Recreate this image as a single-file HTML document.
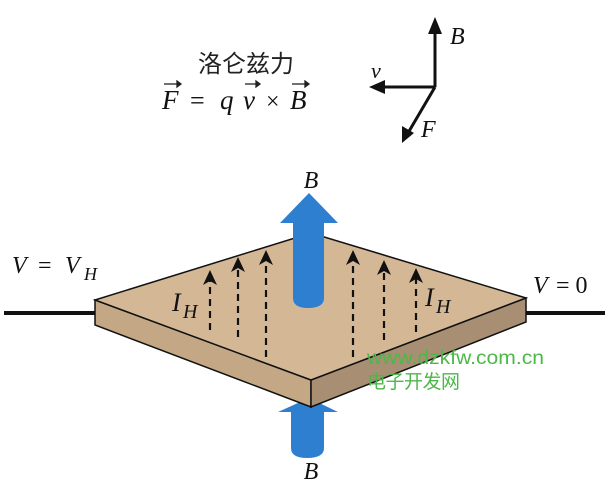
<!DOCTYPE html>
<html><head><meta charset="utf-8"><style>
html,body{margin:0;padding:0;background:#fff;}
svg{display:block;}
.s{font-family:"Liberation Serif",serif;font-style:italic;fill:#111;}
</style></head><body>
<svg width="609" height="497" viewBox="0 0 609 497">
<text x="246" y="72" text-anchor="middle" font-family="'Liberation Sans','Noto Sans CJK SC',sans-serif" font-size="24" fill="#222">洛仑兹力</text>
<text x="162" y="109" class="s" font-size="27">F</text>
<text x="190" y="109" font-family="'Liberation Serif',serif" font-size="26" fill="#111">=</text>
<text x="220" y="109" class="s" font-size="27">q</text>
<text x="243" y="109" class="s" font-size="27">v</text>
<text x="266" y="109" font-family="'Liberation Serif',serif" font-size="24" fill="#111">×</text>
<text x="290" y="109" class="s" font-size="27">B</text>
<g stroke="#222" stroke-width="1.3" fill="#222">
<line x1="164" y1="84" x2="177" y2="84"/><path d="M177,81 L181,84 L177,87z"/>
<line x1="245" y1="84" x2="256" y2="84"/><path d="M256,81 L260,84 L256,87z"/>
<line x1="292" y1="84" x2="305" y2="84"/><path d="M305,81 L309,84 L305,87z"/>
</g>
<g stroke="#111" stroke-width="3" fill="none">
<line x1="435" y1="87" x2="435" y2="28"/>
<line x1="435" y1="87" x2="380" y2="87"/>
<line x1="435" y1="87" x2="408" y2="133"/>
</g>
<path d="M435,17 L428,34 L442,34z" fill="#111"/>
<path d="M369,87 L385,80 L385,94z" fill="#111"/>
<path d="M402,143 L402,126 L414,133z" fill="#111"/>
<text x="450" y="44" class="s" font-size="24">B</text>
<text x="371" y="78" class="s" font-size="22">v</text>
<text x="421" y="137" class="s" font-size="24">F</text>
<line x1="4" y1="313" x2="96" y2="313" stroke="#111" stroke-width="4"/>
<line x1="525" y1="313" x2="605" y2="313" stroke="#111" stroke-width="4"/>
<path d="M291,412 L278,412 L309,398 L338,412 L324,412 L324,448 Q324,458 307,458 Q291,458 291,448 Z" fill="#2e7fd0"/>
<path d="M95,300 L311,380 L311,407 L95,325 Z" fill="#c4a886" stroke="#111" stroke-width="1.5"/>
<path d="M311,380 L526,298 L526,322 L311,407 Z" fill="#a88e72" stroke="#111" stroke-width="1.5"/>
<path d="M95,300 L311,233 L526,298 L311,380 Z" fill="#d4b896" stroke="#111" stroke-width="1.5"/>
<path d="M293,223 L280,223 L309,193 L338,223 L324,223 L324,298 Q324,308 308,308 Q293,308 293,298 Z" fill="#2e7fd0"/>
<g stroke="#111" stroke-width="2.2" stroke-dasharray="7,5">
<line x1="210" y1="330" x2="210" y2="280"/>
<line x1="238" y1="337" x2="238" y2="267"/>
<line x1="266" y1="357" x2="266" y2="260"/>
<line x1="353" y1="357" x2="353" y2="260"/>
<line x1="384" y1="340" x2="384" y2="270"/>
<line x1="416" y1="332" x2="416" y2="278"/>
</g>
<g fill="#111">
<path d="M210,270 L203,285 L210,281 L217,285z"/>
<path d="M238,257 L231,272 L238,268 L245,272z"/>
<path d="M266,250 L259,265 L266,261 L273,265z"/>
<path d="M353,250 L346,265 L353,261 L360,265z"/>
<path d="M384,260 L377,275 L384,271 L391,275z"/>
<path d="M416,268 L409,283 L416,279 L423,283z"/>
</g>
<text x="172" y="311" class="s" font-size="26">I</text>
<text x="183" y="318" class="s" font-size="20">H</text>
<text x="425" y="306" class="s" font-size="26">I</text>
<text x="436" y="313" class="s" font-size="20">H</text>
<text x="311" y="188" text-anchor="middle" class="s" font-size="24">B</text>
<text x="311" y="479" text-anchor="middle" class="s" font-size="24">B</text>
<text x="12" y="273" class="s" font-size="24">V</text>
<text x="38" y="273" font-family="'Liberation Serif',serif" font-size="24" fill="#111">=</text>
<text x="65" y="273" class="s" font-size="24">V</text>
<text x="84" y="280" class="s" font-size="18">H</text>
<text x="533" y="293" class="s" font-size="24">V</text>
<text x="556" y="293" font-family="'Liberation Serif',serif" font-size="24" fill="#111">= 0</text>
<text x="367" y="364" font-family="'Liberation Sans',sans-serif" font-size="19" fill="#4cb848" textLength="177" lengthAdjust="spacingAndGlyphs">www.dzkfw.com.cn</text>
<text x="367" y="388" font-family="'Liberation Sans','Noto Sans CJK SC',sans-serif" font-size="19" fill="#4cb848" textLength="93">电子开发网</text>
</svg>
</body></html>
